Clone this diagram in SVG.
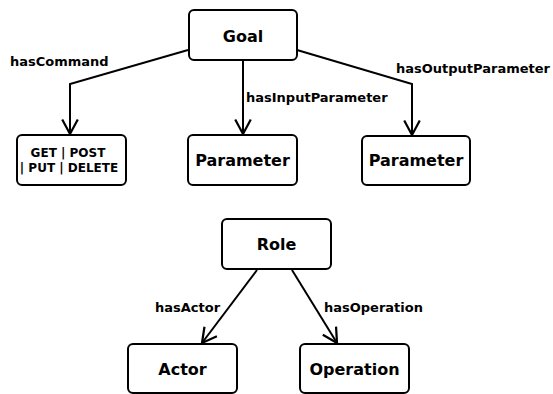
<svg xmlns="http://www.w3.org/2000/svg" width="553" height="394" viewBox="0 0 553 394">
<defs>
<style>
.box{fill:#fff;stroke:#000;stroke-width:2}
.nt{font-family:"DejaVu Sans",sans-serif;font-weight:bold;font-size:16px;text-anchor:middle;fill:#000}
.st{font-family:"DejaVu Sans",sans-serif;font-weight:bold;font-size:12px;text-anchor:middle;fill:#000}
.lb{font-family:"DejaVu Sans",sans-serif;font-weight:bold;font-size:13px;fill:#000}
.edge{fill:none;stroke:#000;stroke-width:2}
</style>
<marker id="arr" markerUnits="userSpaceOnUse" markerWidth="20" markerHeight="20" viewBox="-14 -9 16 18" refX="0" refY="0" orient="auto">
<path d="M-13,-7 L0,0 L-13,7" fill="none" stroke="#000" stroke-width="2"/>
</marker>
</defs>
<rect width="553" height="394" fill="#fff"/>
<g id="connectors">
<path class="edge" d="M188,50 L70,84 L70,134" marker-end="url(#arr)"/>
<path class="edge" d="M243,61 L243,134" marker-end="url(#arr)"/>
<path class="edge" d="M297,50 L412,84 L412,135" marker-end="url(#arr)"/>
<path class="edge" d="M257,270 L202,343" marker-end="url(#arr)"/>
<path class="edge" d="M292,270 L337,343" marker-end="url(#arr)"/>
<text class="lb" x="10" y="66">hasCommand</text>
<text class="lb" x="246" y="102">hasInputParameter</text>
<text class="lb" x="396" y="73">hasOutputParameter</text>
<text class="lb" x="155" y="312">hasActor</text>
<text class="lb" x="324" y="312">hasOperation</text>
</g>
<g id="goal"><rect class="box" x="189" y="10" width="108" height="50" rx="5"/><text class="nt" x="243" y="42">Goal</text></g>
<g id="command"><rect class="box" x="17" y="135" width="109" height="50" rx="5"/><text class="st" x="68" y="157">GET | POST</text><text class="st" x="69" y="172">| PUT | DELETE</text></g>
<g id="inparam"><rect class="box" x="188" y="135" width="109" height="50" rx="5"/><text class="nt" x="242.5" y="166">Parameter</text></g>
<g id="outparam"><rect class="box" x="362" y="136" width="108" height="49" rx="5"/><text class="nt" x="416" y="166">Parameter</text></g>
<g id="role"><rect class="box" x="222" y="219" width="109" height="50" rx="5"/><text class="nt" x="276.5" y="250">Role</text></g>
<g id="actor"><rect class="box" x="128" y="344" width="109" height="49" rx="5"/><text class="nt" x="182.5" y="375">Actor</text></g>
<g id="operation"><rect class="box" x="300" y="344" width="109" height="49" rx="5"/><text class="nt" x="354.5" y="375">Operation</text></g>
</svg>
